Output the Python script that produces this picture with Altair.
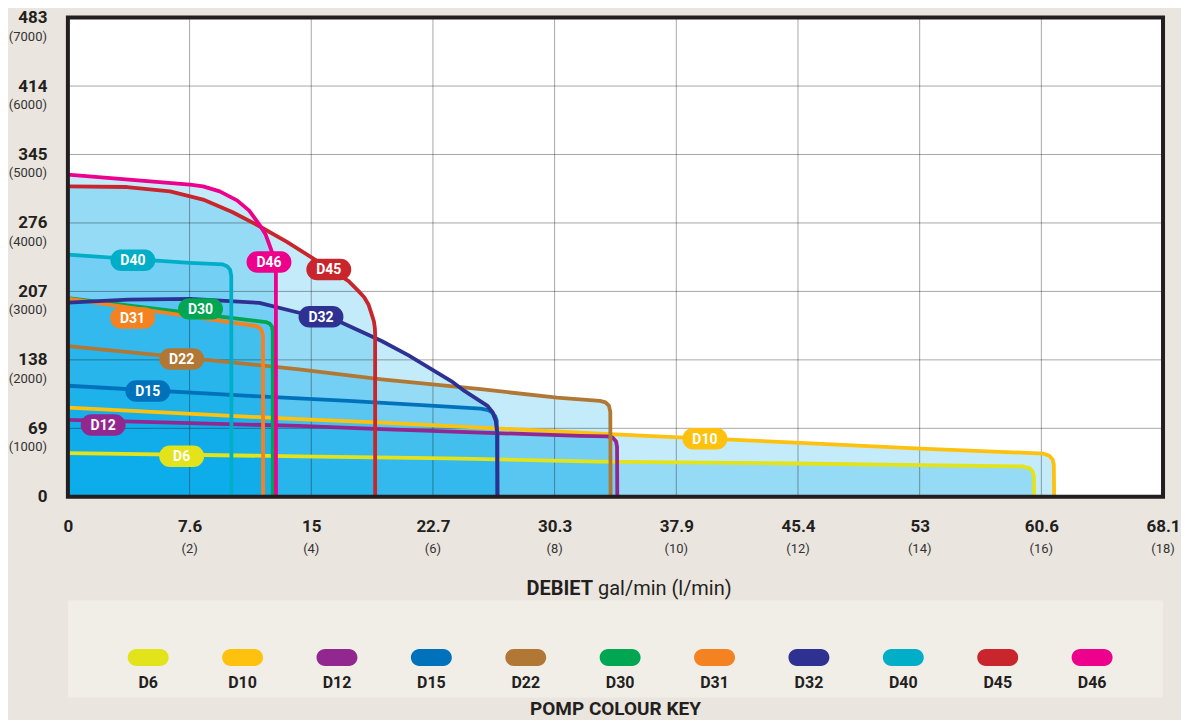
import altair as alt
import pandas as pd

FONT = "Roboto, 'Liberation Sans', sans-serif"
INK = "#231F20"

# ---- series (x in l/min-scale units 0..18, y in psi) ----
series = ["D6", "D10", "D12", "D15", "D22", "D30", "D31", "D32", "D40", "D45", "D46"]
colors = ["#E2E31A", "#FEC10E", "#92278F", "#0072BC", "#B07834", "#00A651",
          "#F58220", "#2E3192", "#00AEC7", "#C9252C", "#EC008C"]

d6_x = [0, 3.80, 6.25, 8.69, 11.95, 14.02, 15.70, 15.81, 15.86, 15.877, 15.88]
d6_y = [637, 591, 561, 514, 486, 462, 442, 416, 365, 292, 0]
d10_x = [0, 3.80, 5.157, 6.787, 8.418, 9.505, 11.95, 14.02, 16.03, 16.13, 16.185, 16.205, 16.21]
d10_y = [1302, 1133, 1084, 1011, 938, 890, 792, 704, 631, 600, 545, 470, 0]
d12_x = [0, 3.80, 5.157, 6.787, 8.418, 8.87, 8.96, 9.01, 9.026, 9.03]
d12_y = [1123, 1035, 987, 938, 890, 883, 860, 809, 729, 0]
d15_x = [0, 2.984, 4.614, 6.028, 6.787, 6.91, 6.978, 7.025, 7.049, 7.06]
d15_y = [1622, 1473, 1400, 1327, 1288, 1265, 1229, 1175, 1108, 0]
d22_x = [0, 1.87, 3.80, 5.157, 6.787, 8.038, 8.744, 8.837, 8.894, 8.915, 8.92]
d22_y = [2202, 2037, 1862, 1716, 1571, 1448, 1400, 1378, 1327, 1240, 0]
d30_x = [0, 1.63, 3.256, 3.318, 3.355, 3.367, 3.367]
d30_y = [2902, 2727, 2552, 2527, 2486, 2421, 0]
d31_x = [0, 2.005, 3.093, 3.155, 3.192, 3.207, 3.209]
d31_y = [2895, 2635, 2494, 2465, 2413, 2333, 0]
d32_x = [0, 0.995, 2.005, 3.147, 3.80, 4.505, 5.157, 5.60, 6.028, 6.30, 6.517, 6.72,
         6.897, 6.98, 7.032, 7.06, 7.06]
d32_y = [2836, 2880, 2892, 2833, 2688, 2542, 2275, 2065, 1837, 1690, 1546, 1430,
         1327, 1235, 1108, 914, 0]
d40_x = [0, 2.005, 2.548, 2.617, 2.666, 2.685, 2.689]
d40_y = [3536, 3417, 3394, 3369, 3318, 3223, 0]
d45_x = [0, 0.973, 1.679, 2.222, 2.70, 3.147, 3.60, 4.016, 4.35, 4.614, 4.777, 4.87,
         4.94, 4.994, 5.03, 5.045, 5.05, 5.05]
d45_y = [4535, 4525, 4462, 4341, 4160, 3952, 3725, 3490, 3300, 3150, 3004, 2915,
         2810, 2664, 2560, 2470, 2373, 0]
d46_x = [0, 2.005, 2.222, 2.495, 2.78, 2.98, 3.147, 3.25, 3.31, 3.38, 3.419, 3.42]
d46_y = [4706, 4560, 4535, 4462, 4330, 4180, 3977, 3830, 3685, 3510, 3344, 0]

curve_x = [d6_x, d10_x, d12_x, d15_x, d22_x, d30_x, d31_x, d32_x, d40_x, d45_x, d46_x]
curve_y = [d6_y, d10_y, d12_y, d15_y, d22_y, d30_y, d31_y, d32_y, d40_y, d45_y, d46_y]

# in-chart label positions
label_x = [1.87, 10.47, 0.579, 1.313, 1.87, 2.18, 1.063, 4.16, 1.068, 4.288, 3.305]
label_y = [591, 849, 1050, 1546, 2012, 2745, 2610, 2630, 3456, 3320, 3430]

# ---- axes ----
x_ticks = [0, 2, 4, 6, 8, 10, 12, 14, 16, 18]
x_main_labels = ["0", "7.6", "15", "22.7", "30.3", "37.9", "45.4", "53", "60.6", "68.1"]
x_sub_labels = ["", "(2)", "(4)", "(6)", "(8)", "(10)", "(12)", "(14)", "(16)", "(18)"]
y_ticks = [0, 1000, 2000, 3000, 4000, 5000, 6000, 7000]
y_main_labels = ["0", "69", "138", "207", "276", "345", "414", "483"]
y_sub_labels = ["", "(1000)", "(2000)", "(3000)", "(4000)", "(5000)", "(6000)", "(7000)"]

W, H = 1097, 480


def label_expr(vals, labels):
    s = "''"
    for v, l in reversed(list(zip(vals, labels))):
        s = f"datum.value == {v} ? '{l}' : ({s})"
    return s


def pill(h):
    a = 1 - h
    return (f"M{-a},{-h}L{a},{-h}A{h},{h} 0 0 1 {a},{h}"
            f"L{-a},{h}A{h},{h} 0 0 1 {-a},{-h}Z")


rows = []
for name, xs_, ys_ in zip(series, curve_x, curve_y):
    for i, (xv, yv) in enumerate(zip(xs_, ys_)):
        rows.append({"series": name, "px": xv, "py": yv, "i": i})
df = pd.DataFrame(rows)

xs = alt.Scale(domain=[0, 18], nice=False, zero=False)
ys = alt.Scale(domain=[0, 7000], nice=False)
cscale = alt.Scale(domain=series, range=colors)

X_AXIS = alt.Axis(values=x_ticks, labelExpr=label_expr(x_ticks, x_main_labels),
                  labelFont=FONT, labelFontSize=17, labelFontWeight="bold",
                  labelColor=INK, labelPadding=22, ticks=False, domain=False,
                  grid=False, labelFlush=False, labelOverlap=False, title=None)
Y_AXIS = alt.Axis(values=y_ticks, labelExpr=label_expr(y_ticks, y_main_labels),
                  labelFont=FONT, labelFontSize=17, labelFontWeight="bold",
                  labelColor=INK, labelPadding=21, ticks=False, domain=False,
                  grid=False, labelFlush=False, labelOverlap=False, title=None)


def X(f):
    return alt.X(f, scale=xs, axis=X_AXIS)


def Y(f):
    return alt.Y(f, scale=ys, axis=Y_AXIS)


FILL = "#00AAEB"
# translucent fills, one per pump; they build up where the envelopes overlap
area_layers = []
for name in series:
    area_layers.append(
        alt.Chart(df).transform_filter(
            (alt.datum.series == name) & (alt.datum.py > 0)
        ).mark_area(color=FILL, fillOpacity=0.23).encode(x=X("px:Q"), y=Y("py:Q"))
    )

gx = alt.Chart(pd.DataFrame({"v": x_ticks[1:-1]})).mark_rule(
    color="#000000", strokeWidth=1, opacity=0.35).encode(x=X("v:Q"))
gy = alt.Chart(pd.DataFrame({"v": y_ticks[1:-1]})).mark_rule(
    color="#000000", strokeWidth=1, opacity=0.35).encode(y=Y("v:Q"))

line_layers = []
for name in series:
    line_layers.append(
        alt.Chart(df).transform_filter(alt.datum.series == name).mark_line(
            strokeWidth=3.8, strokeJoin="round", interpolate="linear").encode(
            x=X("px:Q"), y=Y("py:Q"),
            color=alt.Color("series:N", scale=cscale, legend=None),
            order="i:Q")
    )

frame = alt.Chart(pd.DataFrame({"a": [0]})).mark_rect(
    filled=False, stroke=INK, strokeWidth=4).encode(
    x=alt.datum(0), x2=alt.datum(18), y=alt.datum(0), y2=alt.datum(7000))

ysub = pd.DataFrame({"v": y_ticks, "t": y_sub_labels})
ysub_txt = alt.Chart(ysub).mark_text(
    font=FONT, fontSize=13, color="#333333", align="right", baseline="middle", dx=-21, dy=19
).encode(x=alt.datum(0), y=Y("v:Q"), text="t:N")

xsub = pd.DataFrame({"v": x_ticks, "t": x_sub_labels})
xsub_txt = alt.Chart(xsub).mark_text(
    font=FONT, fontSize=13, color="#333333", align="center", baseline="middle", dy=52
).encode(x=X("v:Q"), y=alt.datum(0), text="t:N")

ldf = pd.DataFrame({"series": series, "lx": label_x, "ly": label_y})
pills = alt.Chart(ldf).mark_point(shape=pill(0.478), filled=True, size=2025, opacity=1,
                                  strokeWidth=0).encode(
    x=X("lx:Q"), y=Y("ly:Q"),
    color=alt.Color("series:N", scale=cscale, legend=None))
pill_txt = alt.Chart(ldf).mark_text(font=FONT, fontSize=14, fontWeight="bold", color="white",
                                    baseline="middle", dy=1).encode(
    x=X("lx:Q"), y=Y("ly:Q"), text="series:N")

title_df = pd.DataFrame({"a": [0]})
t1 = alt.Chart(title_df).mark_text(text="DEBIET", font=FONT, fontSize=20, fontWeight="bold",
                                   color=INK, align="right", baseline="middle").encode(
    x=alt.value(526), y=alt.value(572))
t2 = alt.Chart(title_df).mark_text(text="gal/min (l/min)", font=FONT, fontSize=20,
                                   color=INK, align="left", baseline="middle").encode(
    x=alt.value(531), y=alt.value(572))

main = alt.layer(*area_layers, gx, gy, *line_layers, frame, ysub_txt, xsub_txt,
                 pills, pill_txt, t1, t2
                 ).properties(width=W, height=H,
                              view=alt.ViewBackground(fill="white", stroke="transparent"))

# ---- colour key ----
kdf = pd.DataFrame({"series": series})
kx = alt.X("series:N", scale=alt.Scale(type="point", domain=series, padding=0.801, align=0.531),
           axis=None)
kp = alt.Chart(kdf).mark_point(shape=pill(0.415), filled=True, size=1681, opacity=1,
                               strokeWidth=0).encode(
    x=kx, y=alt.value(57), color=alt.Color("series:N", scale=cscale, legend=None))
kt = alt.Chart(kdf).mark_text(font=FONT, fontSize=16, fontWeight="bold", color=INK,
                              baseline="middle").encode(x=kx, y=alt.value(83), text="series:N")
key = alt.layer(kp, kt).properties(
    width=W, height=97,
    view=alt.ViewBackground(fill="#F1EEE8", stroke="transparent"),
    title=alt.TitleParams("POMP COLOUR KEY", orient="bottom", anchor="middle", offset=3,
                          font=FONT, fontSize=19, fontWeight="bold", color=INK),
)

chart = alt.vconcat(main, key, spacing=104, bounds="flush").properties(
    background="#EAE5DE",
    padding={"left": 0, "top": 0, "right": 0, "bottom": 0},
).configure_view(strokeWidth=0)

chart.save("out.html", embed_options={"renderer": "svg", "actions": False})
